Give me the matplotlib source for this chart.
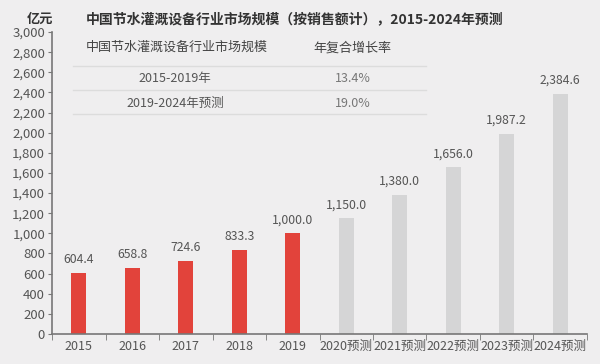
import numpy as np
import matplotlib.pyplot as plt

plt.rcParams['font.family'] = ['Noto Sans CJK SC', 'DejaVu Sans']

years = ["2015", "2016", "2017", "2018", "2019",
         "2020预测", "2021预测", "2022预测", "2023预测", "2024预测"]
values = [604.4, 658.8, 724.6, 833.3, 1000.0,
          1150.0, 1380.0, 1656.0, 1987.2, 2384.6]
is_forecast = [False] * 5 + [True] * 5

table_header = ["中国节水灌溉设备行业市场规模", "年复合增长率"]
table_periods = ["2015-2019年", "2019-2024年预测"]
table_rates = ["13.4%", "19.0%"]

bg = "#efeeef"
red = "#e2433b"
grey_bar = "#d5d5d6"
txt = "#555555"

fig = plt.figure(figsize=(6, 3.64), dpi=100, facecolor=bg)
ax = fig.add_axes([0.0867, 0.0824, 0.8916, 0.8296], facecolor=bg)

x = np.arange(len(years))
colors = [grey_bar if f else red for f in is_forecast]
ax.bar(x, values, width=0.28, color=colors)
for xi, v in zip(x, values):
    ax.text(xi, v + 70, f"{v:,.1f}", ha="center", va="bottom",
            fontsize=8.8, color=txt)

ax.set_xlim(-0.5, len(years) - 0.5)
ax.set_ylim(0, 3000)
ax.set_yticks(np.arange(0, 3001, 200))
ax.set_yticklabels([f"{v:,}" for v in range(0, 3001, 200)])
ax.set_xticks(x)
ax.set_xticklabels(years)
ax.set_xticks(np.arange(-0.5, len(years)), minor=True)
ax.tick_params(axis="x", which="major", length=0, labelsize=9,
               colors=txt, pad=4)
ax.tick_params(axis="x", which="minor", length=4, color="#777777")
ax.tick_params(axis="y", length=3, pad=2, labelsize=9.5, colors=txt,
               color="#777777")
for s in ["top", "right"]:
    ax.spines[s].set_visible(False)
for s in ["left", "bottom"]:
    ax.spines[s].set_color("#777777")
    ax.spines[s].set_linewidth(1.2)

# title and unit
fig.text(0.143, 0.948, "中国节水灌溉设备行业市场规模（按销售额计），2015-2024年预测",
         fontsize=10, color="#333333", va="center", fontweight="bold")
fig.text(0.044, 0.948, "亿元", fontsize=9.5, color="#333333", va="center",
         fontweight="bold")

# CAGR table
col1, col2 = 0.292, 0.588
fig.text(0.143, 0.869, table_header[0], fontsize=9.4, color="#444444",
         va="center")
fig.text(col2, 0.869, table_header[1], fontsize=9.4, color="#444444",
         va="center", ha="center")
for yl in [0.819, 0.753, 0.687]:
    fig.add_artist(plt.Line2D([0.122, 0.71], [yl, yl], color="#dcdcdc",
                              lw=1, transform=fig.transFigure))
for i, (p, r) in enumerate(zip(table_periods, table_rates)):
    yy = 0.783 - i * 0.066
    fig.text(col1, yy, p, fontsize=9, color=txt, va="center", ha="center")
    fig.text(col2, yy, r, fontsize=9, color="#777777", va="center",
             ha="center")

fig.savefig("out.png", dpi=100, facecolor=bg)
